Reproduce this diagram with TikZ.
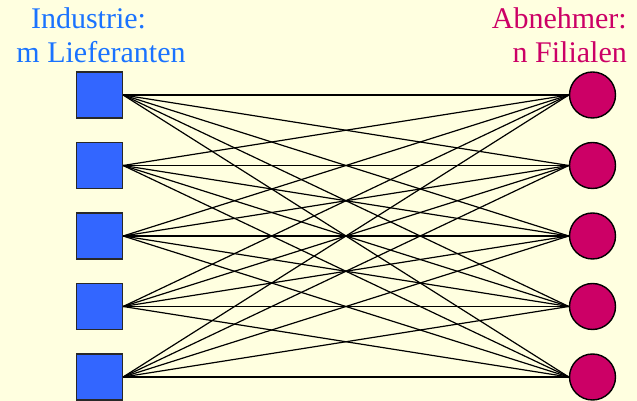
\documentclass[tikz,border=0pt]{standalone}
\usepackage{fontspec}
\setmainfont{Liberation Serif}
\newfontfamily\titelfont{Liberation Serif}
\begin{document}
\begin{tikzpicture}[x=1pt,y=1pt]
	\tikzstyle{every node}=[font=\titelfont\fontsize{30}{34}\selectfont]
	\tikzstyle{lieferant}=[draw={rgb,255:red,40; green,40; blue,40}, fill={rgb,255:red,51; green,102; blue,255}, minimum size=46pt, inner sep=0pt, line width=1.2pt]
	\tikzstyle{filiale}=[circle, draw=black, fill={rgb,255:red,204; green,0; blue,102}, minimum size=46pt, inner sep=0pt, line width=1.4pt]
	\tikzstyle{titel}=[inner sep=0pt]
	\fill [color={rgb,255:red,255; green,255; blue,224}] (0,0) rectangle (637,401);
	\useasboundingbox (0,0) rectangle (637,401);
	\foreach \i in {1,...,5} {
		\node [lieferant] (l\i) at (99.5, {306-70.5*(\i-1)}) {};
		\node [filiale] (f\i) at (592.5, {306-70.5*(\i-1)}) {};
	}
	\foreach \i in {1,...,5}
		\foreach \j in {1,...,5}
			\draw [line width=1.2pt] (l\i.east) -- (f\j.west);
	\node [titel, anchor=base, color={rgb,255:red,26; green,115; blue,255}] (industrie) at (88.5,372) {Industrie:};
	\node [titel, anchor=base, color={rgb,255:red,26; green,115; blue,255}] (lieferanten) at (101,338) {m Lieferanten};
	\node [titel, anchor=base east, color={rgb,255:red,204; green,0; blue,102}] (abnehmer) at (627,372) {Abnehmer:};
	\node [titel, anchor=base east, color={rgb,255:red,204; green,0; blue,102}] (filialen) at (627,338) {n Filialen};
\end{tikzpicture}
\end{document}
